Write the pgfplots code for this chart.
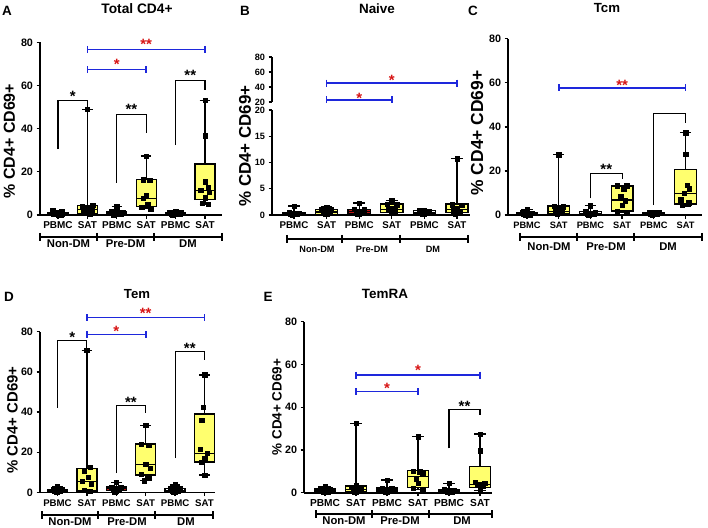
\documentclass[border=0pt]{standalone}
\usepackage{fontspec}
\setmainfont{Liberation Sans}
\usepackage{pgfplots}
\pgfplotsset{compat=1.18}
\usepgfplotslibrary{statistics}
\definecolor{boxyellow}{RGB}{255,255,110}
\definecolor{boxred}{RGB}{185,20,20}
\definecolor{sigblue}{RGB}{30,40,220}
\definecolor{sigred}{RGB}{215,20,20}
\newcommand{\fs}[1]{\fontsize{#1}{#1}\selectfont\bfseries}
\newcommand{\bx}[7]{\addplot[boxplot prepared={draw direction=y, draw position=#1, lower whisker=#2, lower quartile=#3, median=#4, upper quartile=#5, upper whisker=#6, box extend=0.68, whisker extend=0.36}, draw=black, line width=1.3bp, fill=#7] coordinates {};}
\newcommand{\pts}[1]{\addplot[only marks, mark=square*, mark size=2.2bp, black] coordinates {#1};}
\newcommand{\br}[5]{\draw[line width=1.1bp] (axis cs:#1,#2) -- (axis cs:#1,#3) -- (axis cs:#4,#3) -- (axis cs:#4,#5);}
\newcommand{\bb}[3]{\draw[sigblue, line width=1.6bp] (axis cs:#1,#3) -- (axis cs:#2,#3);
 \draw[sigblue, line width=1.6bp] ([yshift=3.5bp]axis cs:#1,#3) -- ([yshift=-3.5bp]axis cs:#1,#3);
 \draw[sigblue, line width=1.6bp] ([yshift=3.5bp]axis cs:#2,#3) -- ([yshift=-3.5bp]axis cs:#2,#3);}
\newcommand{\st}[4]{\node[font=\fs{15}, text=#4, yshift=-3bp, inner sep=0pt] at (axis cs:#1,#2) {#3};}
\pgfplotsset{
  panel/.style={
    scale only axis, enlargelimits=false, clip=false,
    axis x line=bottom, axis y line=left,
    axis line style={-, line width=1.6bp},
    tick align=outside, major tick length=3.5bp,
    tick style={black, line width=1.3bp},
    xtick={1,2,3,4,5,6},
    xticklabels={PBMC,SAT,PBMC,SAT,PBMC,SAT},
    /pgf/number format/assume math mode=true,
    ymin=0, ymax=80, ytick={0,20,40,60,80},
    yticklabel style={font=\fs{10.8}},
    xticklabel style={font=\fs{10}},
    anchor=south west,
  }
}
\begin{document}
\begin{tikzpicture}[x=1bp,y=-1bp]
\path[use as bounding box] (0,0) rectangle (708,528);

% ---------------- Panel A
\begin{axis}[panel, at={(40bp,-215bp)}, width=182bp, height=172.7bp, xmin=0.388, xmax=6.578]
\bx{1}{0}{0.2}{0.5}{1.3}{2.2}{white}
\bx{2}{0.3}{0.8}{2.5}{4.5}{48.9}{boxyellow}
\bx{3}{0.1}{0.3}{0.9}{1.5}{3.9}{white}
\bx{4}{3.0}{3.9}{7.7}{16.5}{27.3}{boxyellow}
\bx{5}{0.1}{0.2}{0.6}{1.2}{1.5}{white}
\bx{6}{5.0}{7.2}{11.2}{23.6}{53.2}{boxyellow}
\pts{(0.82,2.2)(1.12,1.6)(0.9,1.0)(1.0,0.6)(1.15,0.4)(0.85,0.3)(1.0,0.2)(1.1,0.1)}
\pts{(2,48.9)(2.18,4.5)(1.82,4.2)(2.0,3.5)(2.15,2.2)(1.85,1.5)(2.0,1.0)(2.1,0.5)}
\pts{(3,3.9)(2.8,1.5)(3.2,1.3)(3,1.0)(2.85,0.7)(3.15,0.5)(3,0.3)(2.9,0.1)}
\pts{(4,27.3)(3.9,16.3)(4.12,16.0)(4.0,9.0)(3.9,7.8)(4.05,4.8)(3.85,3.6)(4.15,3.0)}
\pts{(5,1.5)(4.8,1.2)(5.2,1.0)(5,0.8)(4.85,0.6)(5.15,0.4)(5,0.3)(4.9,0.2)}
\pts{(6,53.2)(6,36.7)(6,15.4)(6.1,13)(5.85,11.5)(6.15,10.5)(6,8)(5.9,5.5)(6.1,5.0)}
\br{1}{30.5}{52.9}{2}{48.9}
\st{1.5}{56.5}{*}{black}
\br{3}{15}{46.6}{4}{38}
\st{3.5}{50.5}{**}{black}
\br{5}{32.4}{62.1}{6}{58.1}
\st{5.5}{66}{**}{black}
\bb{2}{4}{67.4}
\st{3}{71.2}{*}{sigred}
\bb{2}{6}{76.7}
\st{4}{80.6}{**}{sigred}
\end{axis}

% ---------------- Panel B (broken axis)
\begin{axis}[panel, at={(272bp,-215bp)}, width=198bp, height=105bp, xmin=0.325, xmax=6.399,
  ymin=0, ymax=20, ytick={0,5,10,15,20}, yticklabel style={font=\fs{9.2}}, xticklabel style={font=\fs{9.8}}]
\bx{1}{0}{0.05}{0.2}{0.45}{1.7}{white}
\bx{2}{0.1}{0.15}{0.6}{1.0}{1.5}{boxyellow}
\bx{3}{0.1}{0.2}{0.7}{1.1}{2.3}{boxred}
\bx{4}{0.5}{0.5}{1.1}{2.1}{2.7}{boxyellow}
\bx{5}{0.05}{0.1}{0.4}{0.8}{0.9}{white}
\bx{6}{0.2}{0.5}{1.1}{2.1}{10.7}{boxyellow}
\pts{(1,1.7)(0.85,0.5)(1.15,0.4)(1,0.3)(0.9,0.2)(1.1,0.15)(1,0.1)(0.95,0.05)}
\pts{(2,1.5)(1.85,1.1)(2.15,1.0)(2,0.7)(1.9,0.5)(2.1,0.3)(2,0.15)(1.95,0.1)}
\pts{(3,2.3)(2.85,1.1)(3.15,1.0)(3,0.7)(2.9,0.4)(3.1,0.3)(3,0.2)(2.95,0.1)}
\pts{(4,2.7)(3.85,2.1)(4.15,2.0)(4,1.3)(3.9,1.1)(4.1,0.8)(4,0.5)}
\pts{(5,0.9)(4.85,0.8)(5.15,0.7)(5,0.5)(4.9,0.4)(5.1,0.3)(5,0.2)(4.95,0.1)}
\pts{(6,10.7)(5.85,2.0)(6.15,1.9)(6,1.2)(5.9,1.0)(6.1,0.6)(6,0.4)(5.95,0.2)}
\end{axis}
\begin{axis}[panel, at={(272bp,-102bp)}, width=198bp, height=45bp, xmin=0.325, xmax=6.399,
  axis x line=none, xtick=\empty, ymin=20, ymax=80, ytick={20,40,60,80}, yticklabel style={font=\fs{9.2}}]
\bb{2}{4}{22.7}
\st{3}{29.3}{*}{sigred}
\bb{2}{6}{45}
\st{4}{52.4}{*}{sigred}
\end{axis}

% ---------------- Panel C
\begin{axis}[panel, at={(508bp,-215bp)}, width=194bp, height=176.3bp, xmin=0.401, xmax=6.52, xticklabel style={font=\fs{9.3}}]
\bx{1}{0}{0.1}{0.5}{1.0}{2.6}{white}
\bx{2}{0.3}{0.6}{1.5}{4.1}{27.3}{boxyellow}
\bx{3}{0.1}{0.3}{0.8}{1.5}{4.2}{white}
\bx{4}{1.1}{1.8}{6.8}{13.2}{13.5}{boxyellow}
\bx{5}{0.1}{0.2}{0.6}{1.2}{1.3}{white}
\bx{6}{4.1}{5.0}{9.8}{20.5}{37.4}{boxyellow}
\pts{(1,2.6)(0.85,1.0)(1.15,0.8)(1,0.5)(0.9,0.3)(1.1,0.2)(1,0.1)(0.95,0.05)}
\pts{(2,27.3)(1.85,4.0)(2.15,3.8)(2,3.0)(1.9,2.0)(2.1,1.5)(2,1.0)(1.95,0.5)}
\pts{(3,4.2)(2.85,1.5)(3.15,1.3)(3,0.9)(2.9,0.6)(3.1,0.4)(3,0.3)(2.95,0.1)}
\pts{(3.85,13.3)(4.15,13.3)(4.05,12.0)(3.95,8.5)(4.1,6.5)(4,4.5)(3.85,1.8)(4.15,1.2)}
\pts{(5,1.3)(4.85,1.1)(5.15,1.0)(5,0.7)(4.9,0.5)(5.1,0.4)(5,0.3)(4.95,0.1)}
\pts{(6,37.4)(6,27.7)(6.05,13.5)(6.12,12)(5.95,10)(5.85,7)(6.1,5.5)(5.9,4.5)}
\br{3}{7.6}{19}{4}{16.2}
\st{3.5}{22.2}{**}{black}
\br{5}{4.5}{45.9}{6}{41.7}
\bb{2}{6}{57.7}
\st{4}{60}{**}{sigred}
\end{axis}

% ---------------- Panel D
\begin{axis}[panel, at={(40bp,-492.3bp)}, width=175bp, height=160.6bp, xmin=0.405, xmax=6.357, xticklabel style={font=\fs{9.7}}]
\bx{1}{0}{0.3}{0.8}{1.5}{2.8}{white}
\bx{2}{0.3}{0.6}{5.3}{11.8}{70.8}{boxyellow}
\bx{3}{0.3}{0.8}{1.8}{2.6}{5.0}{boxred}
\bx{4}{5.8}{8.6}{13.8}{24.0}{33.3}{boxyellow}
\bx{5}{0.2}{0.4}{1.0}{2.0}{3.7}{white}
\bx{6}{8.6}{15.1}{19.5}{39.0}{58.5}{boxyellow}
\pts{(1,2.8)(0.85,1.5)(1.15,1.3)(1,1.0)(0.9,0.7)(1.1,0.5)(1,0.3)(0.95,0.1)}
\pts{(2,70.8)(2.12,12.5)(1.9,10.5)(2.05,7.5)(1.85,5.5)(2.15,4.0)(1.9,1.0)(2.1,0.5)}
\pts{(3,5.0)(2.85,2.6)(3.15,2.4)(3,2.0)(2.9,1.5)(3.1,1.0)(3,0.8)(2.95,0.4)}
\pts{(4,33.3)(3.85,24)(4.1,23.5)(4,14)(4.15,12)(3.85,9)(4.1,7)(3.95,5.8)}
\pts{(5,3.7)(4.85,2.0)(5.15,1.8)(5,1.2)(4.9,0.8)(5.1,0.6)(5,0.4)(4.95,0.2)}
\pts{(6,58.5)(5.95,42.5)(5.9,35.8)(5.85,21.5)(6.1,19.5)(6,17)(5.9,15)(6,8.6)}
\br{1}{42}{75.6}{2}{72}
\st{1.5}{78.5}{*}{black}
\br{3}{9.5}{43.3}{4}{39.4}
\st{3.5}{46.5}{**}{black}
\br{5}{17}{70}{6}{66}
\st{5.5}{73.2}{**}{black}
\bb{2}{4}{78.6}
\st{3}{81.8}{*}{sigred}
\bb{2}{6}{87}
\st{4}{90.8}{**}{sigred}
\end{axis}

% ---------------- Panel E
\begin{axis}[panel, at={(304bp,-492.7bp)}, width=188bp, height=171bp, xmin=0.323, xmax=6.387, xticklabel style={font=\fs{10.2}}]
\bx{1}{0}{0.3}{1.0}{1.8}{2.8}{white}
\bx{2}{0.3}{0.6}{1.6}{3.1}{32.5}{boxyellow}
\bx{3}{0.2}{0.4}{1.2}{2.2}{5.9}{boxred}
\bx{4}{1.5}{2.4}{7.5}{10.3}{26.2}{boxyellow}
\bx{5}{0.1}{0.3}{0.8}{1.5}{4.4}{white}
\bx{6}{1.0}{2.5}{4.0}{12.2}{27.5}{boxyellow}
\pts{(1,2.8)(0.85,1.8)(1.15,1.6)(1,1.2)(0.9,0.8)(1.1,0.5)(1,0.3)(0.95,0.1)}
\pts{(2,32.5)(2,3.2)(1.85,2.5)(2.15,2.0)(1.9,1.5)(2.1,1.0)(2,0.5)(1.95,0.3)}
\pts{(3,5.9)(2.85,2.2)(3.15,2.0)(3,1.5)(2.9,1.0)(3.1,0.7)(3,0.4)(2.95,0.2)}
\pts{(4,26.2)(3.85,10.0)(4.05,9.8)(4.15,9.3)(3.95,6.5)(4,4.5)(3.85,2.2)(4.15,1.5)}
\pts{(5,4.4)(4.85,1.5)(5.15,1.3)(5,1.0)(4.9,0.7)(5.1,0.5)(5,0.3)(4.95,0.1)}
\pts{(6,27.5)(6,19.7)(5.85,5.0)(6.15,4.5)(6,4.0)(5.9,3.5)(6.1,3.0)(6,1.0)}
\br{5}{20.8}{39}{6}{36.4}
\st{5.5}{42}{**}{black}
\bb{2}{4}{47.3}
\st{3}{50.2}{*}{sigred}
\bb{2}{6}{55}
\st{4}{58.7}{*}{sigred}
\end{axis}

% ---------------- group brackets
\begin{scope}[line width=1.3bp]
\draw (40,237) -- (222,237);
\foreach \x in {40,97,154,222} \draw (\x,233) -- (\x,241);
\draw (287,239) -- (468,239);
\foreach \x in {287,342,400,468} \draw (\x,235) -- (\x,243);
\draw (520,237) -- (702,237);
\foreach \x in {520,577,634,702} \draw (\x,233) -- (\x,241);
\draw (42,515) -- (213,515);
\foreach \x in {42,98,155,213} \draw (\x,511) -- (\x,519);
\draw (316,514) -- (492,514);
\foreach \x in {316,372,429,492} \draw (\x,510) -- (\x,518);
\end{scope}
\begin{scope}[every node/.style={font=\fs{11.3}, inner sep=0pt}]
\node at (68.5,243.5) {Non-DM};
\node at (125.5,243.5) {Pre-DM};
\node at (188,243.5) {DM};
\node[font=\fs{9.2}] at (317,249) {Non-DM};
\node[font=\fs{9.2}] at (372,249) {Pre-DM};
\node[font=\fs{9.2}] at (433,249) {DM};
\node at (549,246.5) {Non-DM};
\node at (606,246.5) {Pre-DM};
\node at (668,246.5) {DM};
\node at (70,522) {Non-DM};
\node at (127,522) {Pre-DM};
\node at (186,522) {DM};
\node at (344,521) {Non-DM};
\node at (400,521) {Pre-DM};
\node at (462,521) {DM};
\end{scope}

% ---------------- titles, letters, y labels
\begin{scope}[every node/.style={inner sep=0pt}]
\node[font=\fs{13.8}] at (137,8.5) {Total CD4+};
\node[font=\fs{13.5}] at (377,8.5) {Naive};
\node[font=\fs{13.3}] at (607,8.5) {Tcm};
\node[font=\fs{13.2}] at (137,294) {Tem};
\node[font=\fs{13.5}] at (385,294) {TemRA};
\node[font=\fs{13.5}] at (7,11) {A};
\node[font=\fs{13.5}] at (245,10.5) {B};
\node[font=\fs{13.5}] at (473,10.5) {C};
\node[font=\fs{13.5}] at (9,297) {D};
\node[font=\fs{13.5}] at (268,297) {E};
\node[rotate=90, font=\fs{16}] at (9.5,141) {\% CD4+ CD69+};
\node[rotate=90, font=\fs{17}] at (245,146) {\% CD4+ CD69+};
\node[rotate=90, font=\fs{17.5}] at (477,133) {\% CD4+ CD69+};
\node[rotate=90, font=\fs{15}] at (12.5,420) {\% CD4+ CD69+};
\node[rotate=90, font=\fs{13.5}] at (277,407) {\% CD4+ CD69+};
\end{scope}
\end{tikzpicture}
\end{document}
